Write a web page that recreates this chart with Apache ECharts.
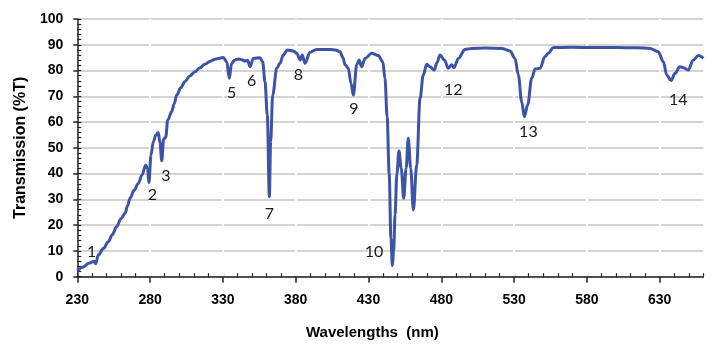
<!DOCTYPE html>
<html>
<head>
<meta charset="utf-8">
<script src="https://cdn.jsdelivr.net/npm/echarts@6/dist/echarts.min.js"></script>
<style>html,body{margin:0;padding:0;background:#fff;}#c{width:714px;height:359px;}</style>
</head>
<body>
<div id="c"></div>
<script>
const wavelengths = [230,234,238,241.5,242.6,244.4,248,251.3,254,257,260,262.8,264.5,266.2,269,271.9,274.5,277,278.2,279.2,280.6,282.2,284,285.6,286.8,288,289.3,290.7,292.1,294.8,296.5,298.3,301,304,307,310.8,314,317.7,321,324.6,328,330.3,332.6,334.4,336,338.3,340.6,343,345.2,347,348.6,350.9,355.5,357.3,358.9,360.5,361.9,362.8,364.2,367,369.2,371.5,374.2,378.4,380.7,383,384.5,386.4,389.8,394.4,403.6,408,410.4,412.5,413.9,416.1,418,419.6,421.9,423.5,425.3,427.6,432.2,436.7,439.8,441.3,442.8,444.2,445.4,446.4,447.3,448.2,449.5,450.9,452.5,454.2,455.8,457.3,459,460.8,463.1,465.4,467.6,470,472.2,475.2,477,479.1,482.1,484.8,487.1,488.7,491.7,496.3,500.9,510,521.5,527.2,530.6,532.9,535.2,537,539.3,542.1,544.4,547.8,551.2,553.5,556.9,570,582,600,615,623.3,629,632.5,634.8,637.8,640.5,643.9,646.2,649.6,653,656.5,660];
const transmission = [2.2,3.8,5.2,6.0,5.0,8.4,11,13.6,16.3,19.4,22.5,24.6,27.5,30.4,33.5,36.2,39.5,43.3,42,36.5,47.2,52.4,55,56.0,52,45,53.5,54,60.8,64,67,70.5,73.3,75.7,77.8,79.5,81,82.4,83.5,84.4,84.8,85.1,83.4,77.0,82.8,84.1,84.5,84.2,83.7,84,81.5,84.7,85.0,83.4,75.7,62.7,31.0,52.4,70.5,80.9,82.8,86,88,87.6,86.7,84.1,86,82.8,87.1,88.2,88.2,87.9,87.3,85,82.2,80.9,75,70.5,82.2,84.1,81.5,84.7,86.7,85.8,83.4,77,62,40,15,4.3,10,23.9,40,48.8,42,30.4,42,53.7,42,25.9,43.3,69.2,78.3,82.4,81.5,80.2,83,86,84.1,80.9,82.2,81.1,84.7,88.2,88.6,88.7,88.6,87.6,84.7,78.3,67.9,62.1,66.6,77,80.6,80.9,85.4,86.7,88.9,89,88.9,88.9,88.8,88.6,87.3,83.4,78.3,76.1,78.9,81.5,81.1,80.2,84.1,85.8,84.7];
const peakLabels = ['1','2','3','5','6','7','8','9','10','12','13','14'];
const peakLabelX = [239.9,281.5,290.9,336,349.8,361.9,381.8,420,433.8,488.2,539.8,642.8];
const peakLabelY = [9.6,31.7,39.2,71.2,76.1,24.3,78.3,65.1,9.7,72.4,56.3,68.6];
const xTicks = {min:230, max:660, major:50, minor:10};
const yTicks = {min:0, max:100, major:10, minor:2};

const chart = echarts.init(document.getElementById('c'), null, {renderer:'canvas'});
const axisFont = {fontFamily:'Liberation Sans', fontWeight:'bold', fontSize:14, color:'#000'};
const option = {
  animation:false,
  grid:{left:77.3, right:10.6, top:19, bottom:82.3, containLabel:false},
  xAxis:[{
    type:'value', min:xTicks.min, max:xTicks.max, interval:xTicks.major, z:1,
    name:'Wavelengths  (nm)', nameLocation:'middle', nameGap:49,
    nameTextStyle:{fontFamily:'Liberation Sans', fontWeight:'bold', fontSize:15, color:'#000', padding:[0,36,0,0]},
    axisLine:{show:true, lineStyle:{color:'#222', width:1.5}},
    axisTick:{show:true, inside:false, length:6, lineStyle:{color:'#222', width:1.5}},
    axisLabel:Object.assign({margin:16, showMaxLabel:false}, axisFont),
    splitLine:{show:true, showMinLine:false, showMaxLine:false, lineStyle:{color:'#fff', width:2}}
  },{
    type:'value', min:xTicks.min, max:xTicks.max, interval:xTicks.minor, position:'bottom',
    axisLine:{show:false}, axisLabel:{show:false}, splitLine:{show:false},
    axisTick:{show:true, inside:true, length:3.5, lineStyle:{color:'#222', width:1.2}}
  }],
  yAxis:[{
    type:'value', min:yTicks.min, max:yTicks.max, interval:yTicks.major,
    name:'Transmission (%T)', nameLocation:'middle', nameGap:49,
    nameTextStyle:{fontFamily:'Liberation Sans', fontWeight:'bold', fontSize:16, color:'#000'},
    axisLine:{show:true, lineStyle:{color:'#222', width:1.5}},
    axisTick:{show:true, inside:false, length:4, lineStyle:{color:'#222', width:1.5}},
    axisLabel:Object.assign({margin:14}, axisFont),
    splitLine:{show:true, lineStyle:{color:'#d4d4d4', width:2}}
  },{
    type:'value', min:yTicks.min, max:yTicks.max, interval:yTicks.minor, position:'left',
    axisLine:{show:false}, axisLabel:{show:false}, splitLine:{show:false},
    axisTick:{show:true, inside:true, length:4, lineStyle:{color:'#222', width:1.2}}
  }],
  series:[{
    type:'line', xAxisIndex:0, yAxisIndex:0, z:5,
    data:wavelengths.map((w,i)=>[w, transmission[i]]),
    showSymbol:false, smooth:0.35, smoothMonotone:'x',
    lineStyle:{color:'#3D53A6', width:3},
    markPoint:{
      symbol:'circle', symbolSize:0, silent:true,
      label:{show:true, position:'inside', formatter:'{b}', fontFamily:'Lato', fontSize:16, color:'#1a1a1a'},
      data:peakLabels.map((t,i)=>({name:t, coord:[peakLabelX[i], peakLabelY[i]]}))
    }
  }]
};
chart.setOption(option);
</script>
</body>
</html>
